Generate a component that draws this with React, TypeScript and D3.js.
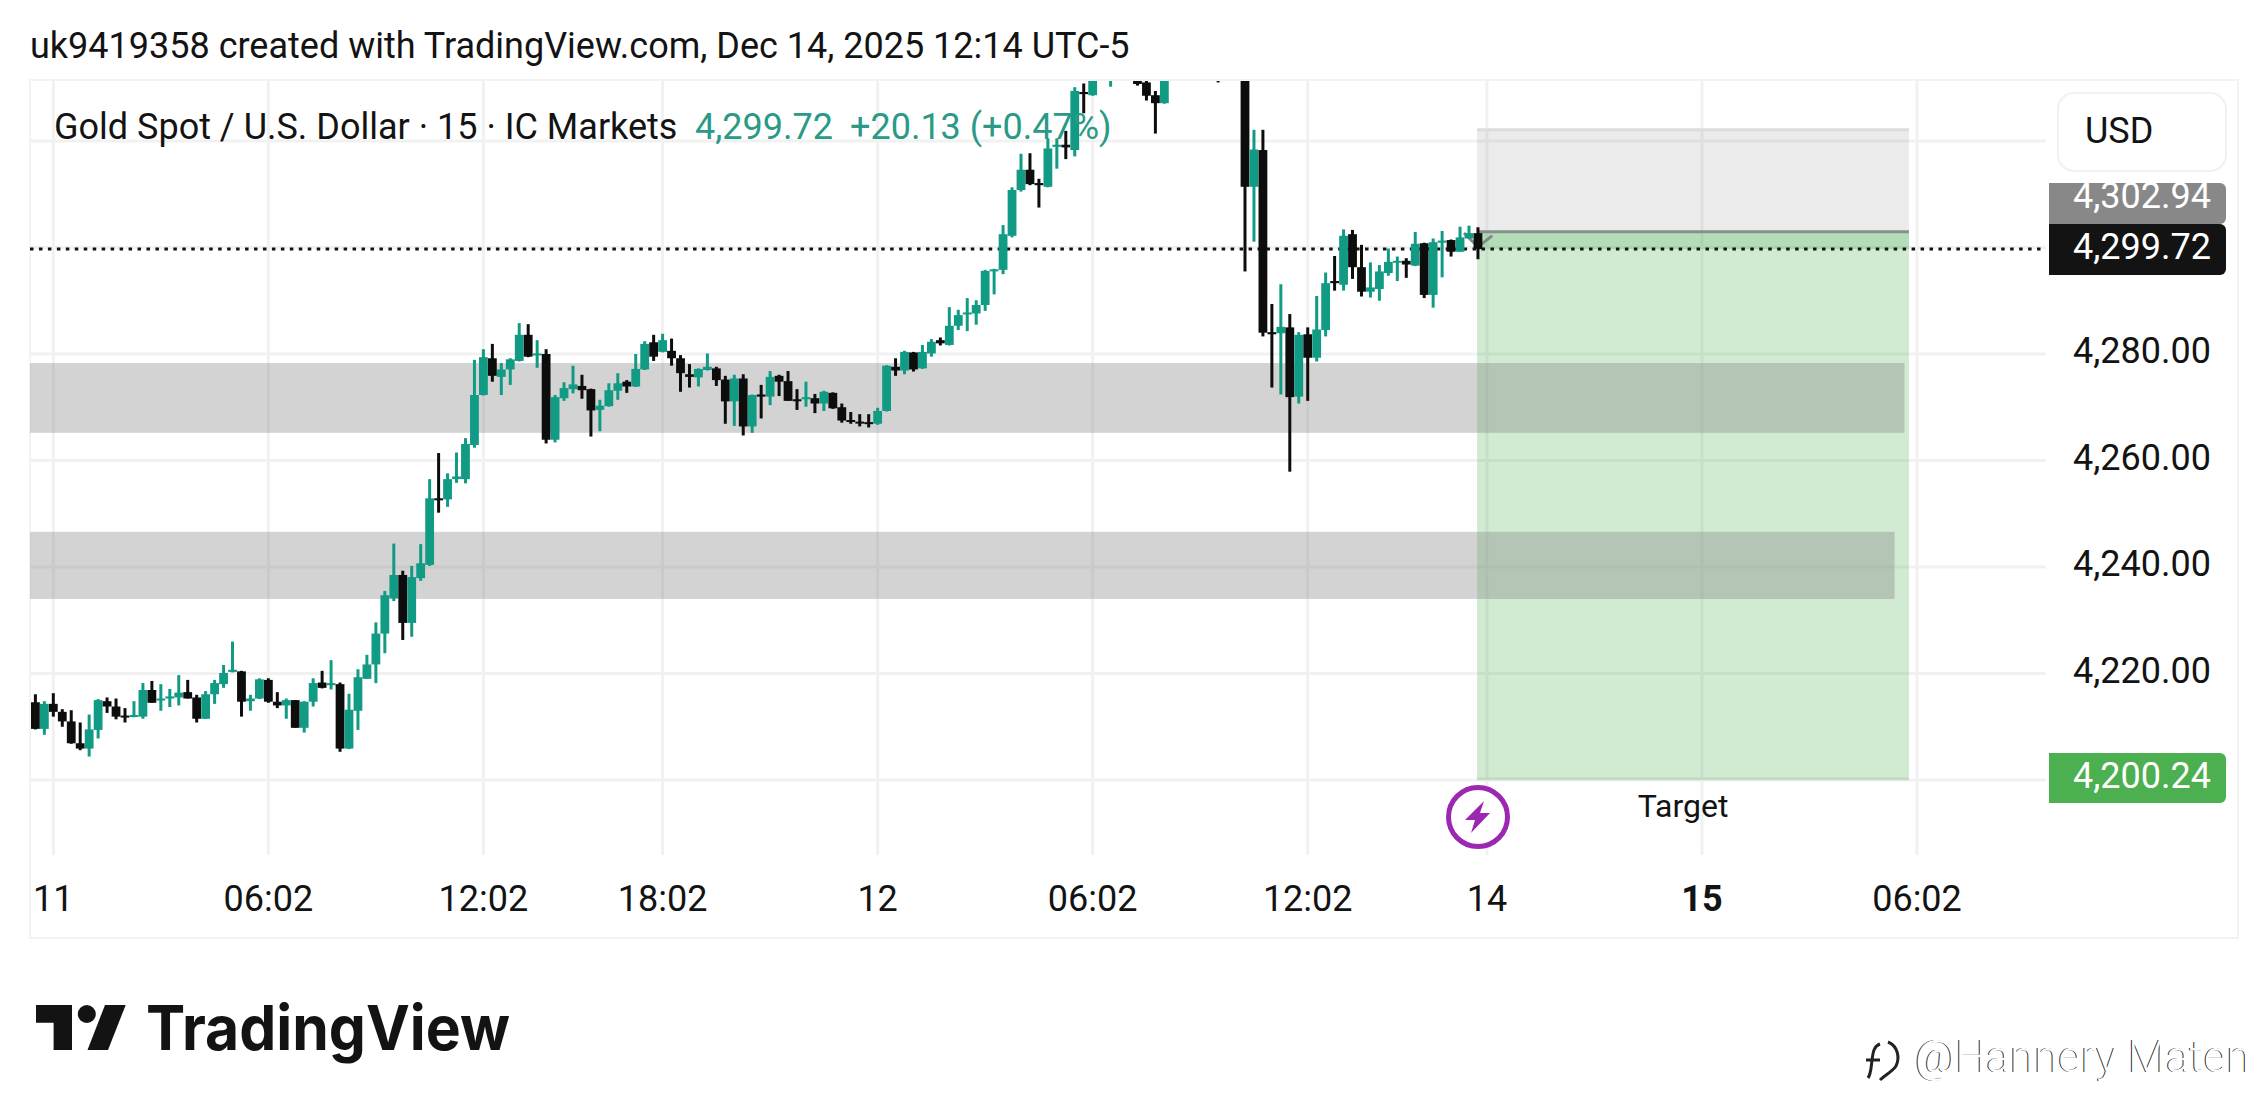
import * as d3 from "d3";
import { useEffect, useRef } from "react";

// 15 minute bars, bars 127-131 / 133 / 134 run above the pane and are estimated
const opens = [
  4214.6, 4209.6, 4214.3, 4212.8, 4211.0, 4206.9, 4205.9, 4209.4, 4214.8, 4213.8, 4212.1, 4211.9, 4211.9, 4216.9, 4215.0, 4215.3, 4215.5, 4216.5, 4215.5, 4211.5,
  4216.1, 4218.0, 4220.3, 4220.4, 4214.8, 4215.3, 4218.8, 4214.7, 4214.0, 4215.0, 4209.8, 4214.7, 4218.3, 4217.8, 4218.0, 4205.9, 4213.0, 4219.0, 4221.7, 4227.5,
  4234.1, 4238.5, 4229.5, 4237.9, 4240.4, 4252.9, 4252.7, 4256.5, 4256.5, 4262.9, 4272.3, 4279.2, 4275.7, 4277.1, 4278.7, 4283.6, 4279.8, 4280.0, 4263.9, 4271.7,
  4273.4, 4274.0, 4273.4, 4269.5, 4270.2, 4273.1, 4274.8, 4273.9, 4277.1, 4282.2, 4280.4, 4280.6, 4279.2, 4276.2, 4275.6, 4277.0, 4277.3, 4275.2, 4271.1, 4275.4,
  4266.4, 4272.4, 4272.0, 4275.9, 4274.9, 4271.5, 4271.5, 4271.7, 4270.7, 4272.7, 4270.0, 4267.6, 4267.3, 4267.2, 4266.9, 4269.3, 4277.6, 4276.9, 4280.3, 4277.3,
  4280.1, 4282.6, 4281.7, 4285.3, 4287.5, 4287.6, 4289.2, 4295.6, 4295.8, 4302.2, 4310.8, 4314.6, 4312.1, 4311.4, 4318.9, 4319.3, 4318.3, 4329.2, 4328.6, 4337.0,
  4339.0, 4341.0, 4339.0, 4334.5, 4331.0, 4328.6, 4327.1, 4337.0, 4340.0, 4338.0, 4341.0, 4339.0, 4336.0, 4334.0, 4337.0, 4340.0, 4311.4, 4318.3, 4284.1, 4283.9,
  4285.0, 4272.0, 4283.7, 4279.3, 4284.5, 4293.7, 4293.0, 4302.5, 4296.3, 4291.7, 4292.2, 4295.2, 4297.2, 4297.5, 4296.6, 4300.8, 4291.1, 4300.9, 4301.4, 4299.2,
  4301.7, 4302.7,
];
const highs = [
  4216.1, 4214.8, 4216.3, 4213.3, 4213.1, 4210.8, 4212.3, 4215.2, 4215.5, 4215.3, 4213.5, 4214.8, 4218.2, 4218.6, 4218.0, 4217.1, 4219.7, 4218.8, 4216.0, 4216.7,
  4218.8, 4221.6, 4226.0, 4220.5, 4216.0, 4219.1, 4219.1, 4216.5, 4215.3, 4215.0, 4214.8, 4219.1, 4220.5, 4222.5, 4218.3, 4216.2, 4220.8, 4223.5, 4229.6, 4235.5,
  4244.4, 4239.3, 4240.2, 4244.3, 4256.5, 4261.4, 4257.6, 4261.5, 4264.2, 4278.9, 4280.9, 4281.9, 4278.3, 4279.2, 4285.8, 4285.6, 4282.6, 4280.9, 4272.3, 4274.7,
  4277.8, 4276.1, 4273.5, 4271.4, 4274.5, 4276.4, 4275.1, 4280.0, 4282.4, 4283.6, 4283.8, 4282.9, 4279.8, 4278.1, 4277.3, 4280.1, 4277.6, 4275.9, 4276.1, 4276.2,
  4272.4, 4274.2, 4276.8, 4276.1, 4276.8, 4273.4, 4274.8, 4272.5, 4273.1, 4272.8, 4270.7, 4269.1, 4268.7, 4268.7, 4269.9, 4277.9, 4279.2, 4280.6, 4280.4, 4281.7,
  4282.8, 4283.1, 4288.8, 4288.3, 4290.5, 4290.1, 4295.8, 4296.0, 4304.2, 4311.3, 4317.6, 4317.7, 4312.9, 4320.5, 4320.5, 4321.9, 4330.1, 4330.8, 4340.0, 4343.0,
  4344.0, 4344.0, 4342.0, 4336.0, 4332.5, 4329.4, 4338.0, 4343.0, 4343.0, 4342.0, 4343.0, 4341.0, 4338.0, 4338.0, 4340.0, 4341.0, 4322.1, 4322.1, 4289.4, 4293.1,
  4287.5, 4284.1, 4285.0, 4290.9, 4295.3, 4298.4, 4303.4, 4303.3, 4300.5, 4297.2, 4296.7, 4299.8, 4298.3, 4298.0, 4302.9, 4300.9, 4301.7, 4303.1, 4301.5, 4303.9,
  4304.1, 4303.8,
];
const lows = [
  4209.5, 4208.5, 4211.9, 4210.0, 4206.8, 4205.6, 4204.4, 4207.8, 4212.6, 4211.4, 4210.8, 4211.8, 4211.5, 4214.5, 4213.0, 4213.7, 4214.0, 4215.3, 4210.8, 4211.5,
  4214.3, 4217.3, 4220.2, 4211.9, 4213.0, 4215.2, 4214.5, 4213.5, 4211.5, 4209.8, 4208.9, 4213.8, 4217.2, 4217.0, 4205.3, 4205.8, 4209.4, 4219.0, 4218.2, 4223.8,
  4233.6, 4226.3, 4226.9, 4237.4, 4240.2, 4250.2, 4251.3, 4255.8, 4255.7, 4262.4, 4272.2, 4274.8, 4272.3, 4274.2, 4278.6, 4279.4, 4277.4, 4263.2, 4263.4, 4271.2,
  4272.6, 4271.6, 4264.5, 4265.5, 4270.1, 4271.4, 4272.7, 4273.8, 4277.0, 4278.7, 4280.3, 4277.8, 4272.9, 4273.7, 4273.9, 4276.9, 4274.0, 4266.9, 4266.5, 4264.7,
  4265.2, 4267.9, 4270.4, 4272.1, 4271.2, 4269.5, 4270.1, 4268.9, 4269.3, 4269.7, 4267.1, 4266.9, 4266.4, 4266.2, 4266.7, 4269.2, 4275.9, 4276.2, 4276.7, 4277.2,
  4279.5, 4281.6, 4281.6, 4284.5, 4284.3, 4285.5, 4288.1, 4291.2, 4295.0, 4301.9, 4310.5, 4311.7, 4307.5, 4311.3, 4314.8, 4316.6, 4317.1, 4325.2, 4328.5, 4334.0,
  4330.2, 4337.0, 4333.0, 4330.4, 4327.6, 4321.4, 4327.0, 4336.0, 4336.0, 4336.0, 4335.0, 4336.0, 4331.0, 4333.0, 4335.0, 4295.5, 4301.1, 4283.3, 4273.7, 4272.4,
  4257.9, 4270.7, 4271.2, 4278.6, 4283.3, 4291.9, 4291.9, 4294.1, 4290.8, 4290.6, 4290.0, 4294.7, 4293.7, 4294.3, 4296.5, 4290.5, 4288.7, 4294.4, 4298.3, 4299.2,
  4301.7, 4297.8,
];
const closes = [
  4209.6, 4214.3, 4212.8, 4211.0, 4206.9, 4205.9, 4209.5, 4215.0, 4213.8, 4211.9, 4211.8, 4212.2, 4216.9, 4214.5, 4215.3, 4215.7, 4216.4, 4215.3, 4211.5, 4216.1,
  4218.2, 4220.1, 4220.7, 4214.7, 4215.3, 4218.9, 4214.7, 4214.0, 4215.0, 4209.8, 4214.7, 4218.2, 4217.3, 4218.2, 4205.9, 4213.2, 4219.3, 4221.7, 4227.5, 4234.7,
  4238.5, 4229.5, 4238.1, 4240.7, 4252.9, 4252.6, 4256.5, 4257.0, 4263.1, 4272.3, 4279.4, 4275.9, 4277.1, 4279.0, 4283.6, 4279.5, 4280.1, 4263.9, 4271.9, 4273.6,
  4274.3, 4273.2, 4269.4, 4270.3, 4273.2, 4274.5, 4273.9, 4277.2, 4281.9, 4279.5, 4282.6, 4279.2, 4276.4, 4275.7, 4277.2, 4277.6, 4275.1, 4271.1, 4275.4, 4266.4,
  4272.3, 4272.0, 4275.7, 4274.8, 4271.2, 4271.2, 4271.9, 4270.7, 4272.9, 4269.8, 4267.5, 4267.3, 4267.0, 4266.9, 4269.3, 4277.8, 4276.9, 4280.4, 4277.1, 4280.4,
  4282.3, 4282.0, 4285.3, 4287.3, 4287.8, 4289.2, 4295.6, 4295.9, 4302.5, 4310.8, 4314.6, 4311.9, 4311.7, 4318.6, 4319.3, 4318.8, 4329.4, 4328.8, 4338.0, 4341.0,
  4341.0, 4339.0, 4335.0, 4330.7, 4328.5, 4327.1, 4337.0, 4340.0, 4338.0, 4341.0, 4339.0, 4336.0, 4334.0, 4338.0, 4340.0, 4311.4, 4318.4, 4284.0, 4283.7, 4285.1,
  4271.9, 4283.6, 4279.3, 4284.6, 4293.3, 4293.3, 4302.2, 4296.3, 4291.7, 4292.5, 4295.5, 4297.3, 4297.5, 4296.8, 4300.7, 4291.1, 4301.0, 4301.3, 4299.2, 4301.9,
  4302.7, 4299.7,
];

const timeTicks = [2, 26, 50, 70, 94, 118, 142, 162, 186, 210];
const timeLabels = ["11", "06:02", "12:02", "18:02", "12", "06:02", "12:02", "14", "15", "06:02"];
const priceGrid = [4200, 4220, 4240, 4260, 4280, 4300, 4320];
const priceLabels = [4220, 4240, 4260, 4280];

const lastPrice = 4299.72;
const stopPrice = 4302.94;
const targetPrice = 4200.24;
const stopTop = 4322.1;
const bandPrices = [[4278.3, 4265.2], [4246.6, 4234.0]];
const bandEnds = [208.6, 207.5];
const positionBars = [160.9, 209.1];

const UP = "#119b84";
const DOWN = "#0d0d0d";
const GRID = "#f1f1f2";
const FONT = "Roboto, sans-serif";

export default function App() {
  const ref = useRef<SVGSVGElement>(null);

  useEffect(() => {
    const svg = d3.select(ref.current).html("");
    const x = d3.scaleLinear().domain([0, 161]).range([35.4, 35.4 + 8.96 * 161]);
    const y = d3.scaleLinear().domain([4200, 4320]).range([780, 141]);
    const fmt = d3.format(",.2f");
    const paneRight = 2046;
    const paneBottom = 855;

    svg.append("defs").append("clipPath").attr("id", "pane")
      .append("rect").attr("x", 30).attr("y", 81).attr("width", paneRight - 30).attr("height", paneBottom - 81);

    // outer frame
    svg.append("rect").attr("x", 30).attr("y", 80).attr("width", 2208).attr("height", 858)
      .attr("fill", "none").attr("stroke", "#f3f3f4").attr("stroke-width", 2);

    // grid
    svg.append("g").selectAll("line").data(priceGrid).join("line")
      .attr("x1", 30).attr("x2", paneRight).attr("y1", (d) => y(d)).attr("y2", (d) => y(d))
      .attr("stroke", GRID).attr("stroke-width", 3);
    svg.append("g").selectAll("line").data(timeTicks).join("line")
      .attr("x1", (d) => x(d)).attr("x2", (d) => x(d)).attr("y1", 80).attr("y2", paneBottom)
      .attr("stroke", GRID).attr("stroke-width", 3);

    // long position tool
    const px0 = x(positionBars[0]);
    const pw = x(positionBars[1]) - px0;
    svg.append("rect").attr("x", px0).attr("width", pw).attr("y", y(stopTop)).attr("height", y(stopPrice) - y(stopTop))
      .attr("fill", "rgba(128,128,128,0.16)");
    svg.append("rect").attr("x", px0).attr("width", pw).attr("y", y(stopPrice)).attr("height", y(targetPrice) - y(stopPrice))
      .attr("fill", "rgba(76,175,80,0.26)");
    svg.append("rect").attr("x", px0).attr("width", pw).attr("y", y(stopPrice)).attr("height", y(lastPrice) - y(stopPrice))
      .attr("fill", "rgba(76,175,80,0.22)");
    svg.append("line").attr("x1", px0).attr("x2", px0 + pw).attr("y1", y(stopPrice)).attr("y2", y(stopPrice))
      .attr("stroke", "#84908a").attr("stroke-width", 3);
    svg.append("line").attr("x1", px0).attr("x2", px0 + pw).attr("y1", y(targetPrice)).attr("y2", y(targetPrice))
      .attr("stroke", "#bfdcc0").attr("stroke-width", 3);
    svg.append("line").attr("x1", px0).attr("x2", px0 + pw).attr("y1", y(stopTop)).attr("y2", y(stopTop))
      .attr("stroke", "#dcdcdc").attr("stroke-width", 3);
    svg.append("path").attr("d", "M1464,233 L1478,247 L1493,235")
      .attr("fill", "none").attr("stroke", "#7f8a85").attr("stroke-width", 3).attr("stroke-dasharray", "16 6");

    // grey zones lie over the position tool
    svg.append("g").selectAll("rect").data(bandPrices).join("rect")
      .attr("x", 30)
      .attr("width", (_, i) => x(bandEnds[i]) - 30)
      .attr("y", (d) => y(d[0]))
      .attr("height", (d) => y(d[1]) - y(d[0]))
      .attr("fill", "rgba(128,128,128,0.35)");

    // last price line
    svg.append("line").attr("x1", 30).attr("x2", paneRight - 4).attr("y1", y(lastPrice)).attr("y2", y(lastPrice))
      .attr("stroke", "#111").attr("stroke-width", 3).attr("stroke-dasharray", "3.5 5.46");

    // candles
    const bars = d3.range(opens.length);
    const color = (i: number) => (closes[i] >= opens[i] ? UP : DOWN);
    const candles = svg.append("g").attr("clip-path", "url(#pane)");
    candles.selectAll("line").data(bars).join("line")
      .attr("x1", (i) => x(i)).attr("x2", (i) => x(i))
      .attr("y1", (i) => y(highs[i])).attr("y2", (i) => y(lows[i]))
      .attr("stroke", color).attr("stroke-width", 3);
    candles.selectAll("rect").data(bars).join("rect")
      .attr("x", (i) => x(i) - 4.4).attr("width", 8.8)
      .attr("y", (i) => y(Math.max(opens[i], closes[i])))
      .attr("height", (i) => Math.max(2, Math.abs(y(opens[i]) - y(closes[i]))))
      .attr("fill", color);

    const text = (s: string, tx: number, ty: number, size: number, fill: string) =>
      svg.append("text").attr("x", tx).attr("y", ty).attr("font-family", FONT)
        .attr("font-size", size).attr("fill", fill).text(s);

    text("uk9419358 created with TradingView.com, Dec 14, 2025 12:14 UTC-5", 30, 58, 36, "#131313");
    text("Gold Spot / U.S. Dollar · 15 · IC Markets", 54, 139, 36, "#131313");
    text(fmt(lastPrice), 695, 139, 36, "#2a9a86");
    text("+20.13 (+0.47%)", 850, 139, 36, "#2a9a86");

    // time axis
    svg.append("g").selectAll("text").data(timeTicks).join("text")
      .attr("x", (d) => x(d)).attr("y", 911).attr("text-anchor", "middle")
      .attr("font-family", FONT).attr("font-size", 36).attr("fill", "#131313")
      .attr("font-weight", (_, i) => (timeLabels[i] === "15" ? 700 : 400))
      .text((_, i) => timeLabels[i]);

    // price axis
    svg.append("g").selectAll("text").data(priceLabels).join("text")
      .attr("x", 2073).attr("y", (d) => y(d) + 9)
      .attr("font-family", FONT).attr("font-size", 36).attr("fill", "#131313")
      .text((d) => fmt(d));

    svg.append("rect").attr("x", 2058).attr("y", 93).attr("width", 168).attr("height", 78).attr("rx", 16)
      .attr("fill", "#fff").attr("stroke", "#f1f1f2").attr("stroke-width", 2);
    text("USD", 2085, 143, 36, "#131313");

    // price labels on the axis
    const tag = (top: number, h: number, fill: string, value: number, base: number) => {
      svg.append("path")
        .attr("d", `M2049,${top} H2220 a6,6 0 0 1 6,6 V${top + h - 6} a6,6 0 0 1 -6,6 H2049 Z`)
        .attr("fill", fill);
      const c = svg.append("clipPath").attr("id", `tag${top}`);
      c.append("rect").attr("x", 2049).attr("y", top).attr("width", 177).attr("height", h);
      text(fmt(value), 2073, base, 36, "#fff").attr("clip-path", `url(#tag${top})`);
    };
    tag(183, 41, "#888888", stopPrice, 208);
    tag(224, 51, "#131313", lastPrice, 259);
    tag(753, 50, "#4caf50", targetPrice, 788);

    // alert icon and target label
    const icon = svg.append("g").attr("transform", "translate(1478,817)");
    icon.append("circle").attr("r", 29.5).attr("fill", "#fff").attr("stroke", "#9c27b0").attr("stroke-width", 5);
    icon.append("path").attr("d", "M6,-16 L-13,3 L-3,3 L-7,16 L12,-4 L2,-4 Z").attr("fill", "#9c27b0");
    text("Target", 1683, 817, 32, "#131313").attr("text-anchor", "middle");

    // logo
    const logo = svg.append("g").attr("fill", "#131313");
    logo.append("path").attr("d", "M36,1005 H72 V1050 H53.6 V1022.7 H36 Z");
    logo.append("circle").attr("cx", 86.8).attr("cy", 1014).attr("r", 9);
    logo.append("path").attr("d", "M105,1005 H125.7 L108,1050 H87.5 Z");
    logo.append("text").attr("x", 146).attr("y", 1050).attr("font-family", "Inter, sans-serif")
      .attr("font-weight", 700).attr("font-size", 62).attr("textLength", 364)
      .attr("lengthAdjust", "spacingAndGlyphs").text("TradingView");

    // watermark
    const mark = svg.append("g").attr("font-family", FONT).attr("font-size", 44).attr("font-weight", 300);
    mark.append("text").attr("x", 1914).attr("y", 1072).attr("fill", "#222").text("@Hannery Maten");
    mark.append("text").attr("x", 1915).attr("y", 1072).attr("fill", "#fff").text("@Hannery Maten");
    const logoMark = "M1880,1044 C1874,1046 1873,1052 1872,1060 C1871,1068 1871,1074 1868,1078 M1866,1060 H1880 M1888,1042 C1898,1046 1900,1058 1896,1066 C1892,1072 1886,1074 1880,1080";
    mark.append("path").attr("d", logoMark).attr("fill", "none").attr("stroke", "#222").attr("stroke-width", 3);
  }, []);

  return <svg ref={ref} width={2268} height={1119} style={{ position: "absolute", left: 0, top: 0 }} />;
}
